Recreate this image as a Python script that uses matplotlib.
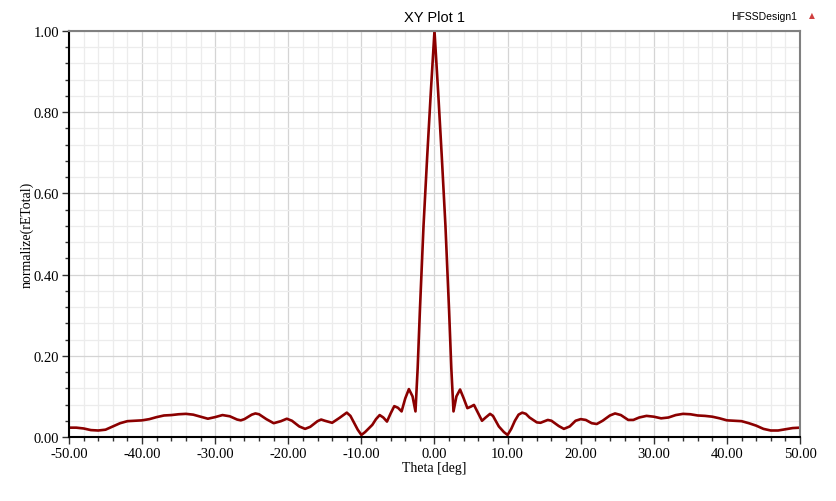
import matplotlib
matplotlib.use('Agg')
import matplotlib.pyplot as plt
from matplotlib.ticker import MultipleLocator, FormatStrFormatter

# Datos (theta en grados, campo normalizado)
theta = [-50, -49, -48, -47, -46, -45, -44, -43, -42, -41, -40, -39, -38, -37,
         -36, -35, -34, -33, -32, -31, -30, -29, -28, -27, -26.5, -26, -25,
         -24.5, -24, -23, -22, -21, -20.2, -19.5, -18.5, -17.7, -17, -16,
         -15.5, -15, -14, -13, -12, -11.5, -11, -10.5, -10, -9.5, -9, -8.5,
         -8, -7.5, -7, -6.5, -6, -5.5, -5, -4.5, -4, -3.5, -3, -2.6, -2.3,
         -2.0, -1.5, -1.0, -0.5, 0,
         0.5, 1.0, 1.5, 2.0, 2.3, 2.6, 3.0, 3.5, 4.0, 4.5, 5.0, 5.4, 6.0, 6.5,
         7.0, 7.6, 8.0, 8.8, 9.5, 10.0, 10.5, 11, 11.5, 12, 12.5, 13, 14,
         14.5, 15.5, 16, 17, 17.7, 18.5, 19.3, 20, 20.7, 21.5, 22.2, 23, 24,
         24.7, 25.5, 26.5, 27.2, 28, 29, 30, 31, 32, 33, 34, 35, 36, 37, 38,
         39, 40, 41, 42, 43, 44, 45, 46, 47, 48, 49, 50]
etotal = [0.023, 0.023, 0.021, 0.017, 0.016, 0.018, 0.026, 0.034, 0.039, 0.040,
          0.041, 0.044, 0.049, 0.053, 0.054, 0.056, 0.057, 0.055, 0.050, 0.045,
          0.049, 0.054, 0.051, 0.043, 0.041, 0.044, 0.055, 0.058, 0.056, 0.044,
          0.034, 0.039, 0.045, 0.040, 0.026, 0.020, 0.025, 0.039, 0.043, 0.040,
          0.035, 0.047, 0.060, 0.052, 0.035, 0.018, 0.005, 0.012, 0.021, 0.030,
          0.044, 0.054, 0.048, 0.038, 0.058, 0.076, 0.072, 0.063, 0.095, 0.118,
          0.100, 0.063, 0.17, 0.31, 0.52, 0.69, 0.85, 1.0,
          0.85, 0.69, 0.52, 0.31, 0.17, 0.063, 0.100, 0.117, 0.095, 0.071,
          0.075, 0.079, 0.058, 0.040, 0.048, 0.057, 0.052, 0.026, 0.012, 0.005,
          0.020, 0.040, 0.055, 0.060, 0.057, 0.048, 0.036, 0.035, 0.042, 0.040,
          0.027, 0.020, 0.026, 0.040, 0.044, 0.042, 0.034, 0.032, 0.040, 0.053,
          0.058, 0.054, 0.042, 0.042, 0.048, 0.052, 0.050, 0.046, 0.048, 0.054,
          0.057, 0.056, 0.053, 0.052, 0.050, 0.046, 0.041, 0.040, 0.039, 0.034,
          0.028, 0.020, 0.016, 0.016, 0.019, 0.022, 0.023]

serif = ['Liberation Serif', 'DejaVu Serif']
sans = ['Liberation Sans', 'DejaVu Sans']

fig = plt.figure(figsize=(8.37, 5.02), dpi=100)
ax = fig.add_axes([0.0824, 0.1275, 0.8734, 0.8088])

ax.plot(theta, etotal, color='#8b0000', linewidth=1.9, solid_joinstyle='round')

ax.set_xlim(-50, 50)
ax.set_ylim(0, 1.0)

ax.xaxis.set_major_locator(MultipleLocator(10))
ax.xaxis.set_minor_locator(MultipleLocator(2))
ax.yaxis.set_major_locator(MultipleLocator(0.2))
ax.yaxis.set_minor_locator(MultipleLocator(0.04))
ax.xaxis.set_major_formatter(FormatStrFormatter('%.2f'))
ax.yaxis.set_major_formatter(FormatStrFormatter('%.2f'))

ax.grid(which='major', color='#d4d4d4', linewidth=0.9)
ax.grid(which='minor', color='#ececec', linewidth=0.9)
ax.set_axisbelow(True)

ax.tick_params(which='major', direction='out', length=5, width=1, color='#333333',
               labelsize=10.5, pad=2)
ax.tick_params(which='minor', direction='out', length=3, width=1, color='#333333')
for lab in ax.get_xticklabels() + ax.get_yticklabels():
    lab.set_family(serif)

for s in ['left', 'bottom']:
    ax.spines[s].set_color('black')
    ax.spines[s].set_linewidth(1.5)
for s in ['top', 'right']:
    ax.spines[s].set_color('#808080')
    ax.spines[s].set_linewidth(1.5)

ax.set_xlabel('Theta [deg]', family=serif, fontsize=10, labelpad=1)
ax.set_ylabel('normalize(rETotal)', family=serif, fontsize=10, labelpad=0)
ax.set_title('XY Plot 1', family=sans, fontsize=10.5, pad=7)

fig.text(0.952, 0.967, 'HFSSDesign1', family=sans, fontsize=7.5, ha='right', va='center')
fig.text(0.970, 0.970, '\u25b2', family=['DejaVu Sans'], fontsize=5.5, color='#d04040',
         ha='center', va='center')

fig.savefig('out.png', dpi=100)
